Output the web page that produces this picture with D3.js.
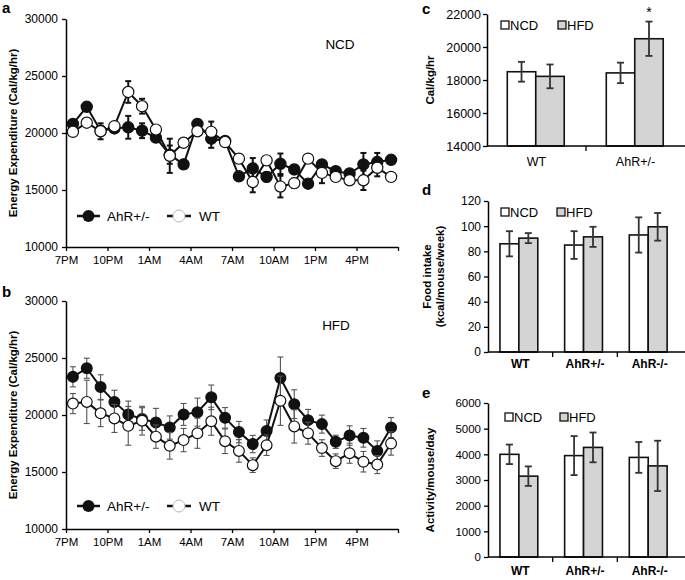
<!DOCTYPE html>
<html><head><meta charset="utf-8">
<script src="https://cdn.jsdelivr.net/npm/d3@7"></script>
<style>
body{margin:0;background:#fff}
svg{display:block}
text{font-family:"Liberation Sans",Arial,sans-serif;fill:#000}
</style>
</head><body>
<svg id="chart" width="685" height="580"></svg>
<script>
// ---------- DATA ----------
const hours = [0.5,1.5,2.5,3.5,4.5,5.5,6.5,7.5,8.5,9.5,10.5,11.5,12.5,13.5,14.5,15.5,16.5,17.5,18.5,19.5,20.5,21.5,22.5,23.5];
const xTickHours = [0,3,6,9,12,15,18,21,24];
const xTickLabels = ["7PM","10PM","1AM","4AM","7AM","10AM","1PM","4PM",""];
const eeTicks = [10000,15000,20000,25000,30000];

// panel a (NCD)
const ncdAhR    = [20800,22300,20200,20400,20500,20200,19600,18100,17250,20800,19500,19300,16200,16900,16150,17300,16800,15550,17250,16650,16450,17250,17450,17650];
const ncdAhRErr = [300,350,400,300,1000,650,350,800,400,300,800,300,300,900,400,900,400,300,350,300,300,1000,800,300];
const ncdWT     = [20100,20900,20150,20600,23600,22350,20300,18000,19150,20150,20100,19200,17750,15700,17600,15300,15600,17750,16500,16150,15850,15850,16950,16150];
const ncdWTErr  = [300,300,700,300,950,650,300,1500,400,300,900,300,400,900,300,950,400,300,900,300,300,850,750,300];

// panel b (HFD)
const hfdAhR    = [23350,24100,22450,21150,20050,19650,19350,18900,20050,20250,21550,19750,18500,17450,18600,23250,20950,19550,19200,17650,18200,18000,16850,18900];
const hfdAhRErr = [880,880,1080,1020,1170,990,1230,1020,960,1230,1080,900,940,760,960,1840,1260,940,790,580,850,820,880,880];
const hfdWT     = [21000,21150,20150,19700,19050,19500,18100,17300,17800,18400,19450,17700,16850,15600,17350,21250,19000,18400,17100,15950,16650,15900,15650,17500];
const hfdWTErr  = [880,1900,1170,1230,1700,1260,1020,1170,1020,1320,1230,1080,990,640,900,2160,1460,960,730,640,880,900,790,1020];

// panel c
const cCats = ["WT","AhR+/-"];
const cNCD = [18500,18430];
const cNCDErr = [600,620];
const cHFD = [18220,20500];
const cHFDErr = [720,1040];
const cTicks = [14000,16000,18000,20000,22000];

// panel d
const dCats = ["WT","AhR+/-","AhR-/-"];
const dNCD = [86,85,93];
const dNCDErr = [10,11,14];
const dHFD = [90.5,91.5,99.5];
const dHFDErr = [4,8,11];
const dTicks = [0,20,40,60,80,100,120];

// panel e
const eCats = ["WT","AhR+/-","AhR-/-"];
const eNCD = [4000,3950,3880];
const eNCDErr = [380,760,600];
const eHFD = [3150,4270,3550];
const eHFDErr = [380,580,980];
const eTicks = [0,1000,2000,3000,4000,5000,6000];

const groups = ["NCD","HFD"];

// ---------- DRAW ----------
const svg = d3.select("#chart");
const FONT = '"Liberation Sans",Arial,sans-serif';

function styleAxis(g, fs){
  g.selectAll("path.domain").attr("stroke","#000").attr("stroke-width",1.5);
  g.selectAll(".tick line").attr("stroke","#000").attr("stroke-width",1.3);
  g.selectAll(".tick text").attr("font-size",fs).attr("font-family",FONT).attr("fill","#000");
}

function linePanel(o){
  const g = svg.append("g");
  const x = d3.scaleLinear().domain([0,24]).range([66,398]);
  const y = d3.scaleLinear().domain([10000,30000]).range([o.yBot,o.yTop]);

  const ax = g.append("g").attr("transform",`translate(0,${o.yBot})`)
    .call(d3.axisBottom(x).tickValues(xTickHours).tickFormat((d,i)=>xTickLabels[i]).tickSize(4).tickSizeOuter(0).tickPadding(5));
  styleAxis(ax, 11.5);
  const ay = g.append("g").attr("transform",`translate(66,0)`)
    .call(d3.axisLeft(y).tickValues(eeTicks).tickFormat(d3.format("d")).tickSize(4).tickSizeOuter(0).tickPadding(4));
  styleAxis(ay, 12);
  ay.selectAll(".tick text").attr("fill","#333");
  ax.selectAll(".tick text").attr("fill","#333");

  g.append("text").attr("transform",`translate(17,${(o.yTop+o.yBot)/2}) rotate(-90)`)
    .attr("text-anchor","middle").attr("font-size",11.5).attr("font-weight","bold")
    .text("Energy Expenditure (Cal/kg/hr)");
  g.append("text").attr("x",2).attr("y",o.labelY).attr("font-size",15).attr("font-weight","bold").text(o.label);
  g.append("text").attr("x",o.titleX).attr("y",o.titleY).attr("font-size",13.5).attr("text-anchor","middle").text(o.title);

  function series(vals, errs, filled){
    const s = g.append("g");
    const cw = 3;
    vals.forEach((v,i)=>{
      const xx = x(hours[i]), y1 = y(v-errs[i]), y2 = y(v+errs[i]);
      s.append("line").attr("x1",xx).attr("x2",xx).attr("y1",y1).attr("y2",y2)
        .attr("stroke",o.errColor).attr("stroke-width",o.errW);
      [y1,y2].forEach(yy=>s.append("line").attr("x1",xx-cw).attr("x2",xx+cw).attr("y1",yy).attr("y2",yy)
        .attr("stroke",o.errColor).attr("stroke-width",o.errW));
    });
    s.append("path").datum(vals)
      .attr("d", d3.line().x((d,i)=>x(hours[i])).y(d=>y(d)))
      .attr("fill","none").attr("stroke","#111").attr("stroke-width",2);
    s.selectAll("circle").data(vals).join("circle")
      .attr("cx",(d,i)=>x(hours[i])).attr("cy",d=>y(d)).attr("r",o.r)
      .attr("fill",filled?"#111":"#fff").attr("stroke","#111").attr("stroke-width",1.2);
  }
  series(o.ahr, o.ahrErr, true);
  series(o.wt, o.wtErr, false);

  // legend
  const ly = o.legendY;
  const leg = g.append("g");
  leg.append("line").attr("x1",77).attr("x2",100).attr("y1",ly).attr("y2",ly).attr("stroke","#111").attr("stroke-width",2.5);
  leg.append("circle").attr("cx",88.5).attr("cy",ly).attr("r",6).attr("fill","#111");
  leg.append("text").attr("x",107).attr("y",ly+5).attr("font-size",13.5).attr("fill","#222").text("AhR+/-");
  leg.append("line").attr("x1",167).attr("x2",191).attr("y1",ly).attr("y2",ly).attr("stroke","#111").attr("stroke-width",2.5);
  leg.append("circle").attr("cx",179).attr("cy",ly).attr("r",6).attr("fill","#fff").attr("stroke","#bbb").attr("stroke-width",1);
  leg.append("text").attr("x",199).attr("y",ly+5).attr("font-size",13.5).attr("fill","#222").text("WT");
}

linePanel({yTop:19,yBot:247,ahr:ncdAhR,ahrErr:ncdAhRErr,wt:ncdWT,wtErr:ncdWTErr,
  title:"NCD",titleX:340,titleY:49,label:"a",labelY:13,legendY:216,r:5.6,errColor:"#111",errW:2});
linePanel({yTop:301,yBot:529,ahr:hfdAhR,ahrErr:hfdAhRErr,wt:hfdWT,wtErr:hfdWTErr,
  title:"HFD",titleX:336,titleY:330,label:"b",labelY:297,legendY:506,r:5.4,errColor:"#555",errW:1.1});

function barPanel(o){
  const g = svg.append("g");
  const x = d3.scaleBand().domain(o.cats).range([o.x0,o.x1]);
  const y = d3.scaleLinear().domain(o.domain).range([o.yBot,o.yTop]);
  const xs = d3.scaleBand().domain(groups).range([x.bandwidth()*o.inner[0], x.bandwidth()*o.inner[1]]);

  // bars
  const series = [{k:"NCD",v:o.ncd,e:o.ncdErr,fill:"#fff"},{k:"HFD",v:o.hfd,e:o.hfdErr,fill:"#d4d4d4"}];
  series.forEach(s=>{
    s.v.forEach((v,i)=>{
      const bx = x(o.cats[i]) + xs(s.k);
      g.append("rect").attr("x",bx).attr("y",y(v)).attr("width",xs.bandwidth()).attr("height",y(o.domain[0])-y(v))
        .attr("fill",s.fill).attr("stroke","#111").attr("stroke-width",1.6);
    });
  });
  series.forEach(s=>{
    s.v.forEach((v,i)=>{
      const cx = x(o.cats[i]) + xs(s.k) + xs.bandwidth()/2;
      const y1 = y(v - s.e[i]), y2 = y(v + s.e[i]);
      g.append("line").attr("x1",cx).attr("x2",cx).attr("y1",y1).attr("y2",y2).attr("stroke","#333").attr("stroke-width",1.8);
      [y1,y2].forEach(yy=>g.append("line").attr("x1",cx-3.5).attr("x2",cx+3.5).attr("y1",yy).attr("y2",yy).attr("stroke","#333").attr("stroke-width",1.8));
    });
  });

  // axes
  const ay = g.append("g").attr("transform",`translate(${o.x0},0)`)
    .call(d3.axisLeft(y).tickValues(o.ticks).tickFormat(d3.format("d")).tickSize(4).tickSizeOuter(0).tickPadding(o.tp));
  styleAxis(ay, o.tickFs);
  ay.selectAll(".tick text").attr("fill","#333");
  g.append("line").attr("x1",o.x0).attr("x2",685).attr("y1",o.yBot).attr("y2",o.yBot).attr("stroke","#000").attr("stroke-width",1.5);
  o.cats.forEach((c,i)=>{
    if(i>0) g.append("line").attr("x1",x(c)).attr("x2",x(c)).attr("y1",o.yBot).attr("y2",o.yBot+5).attr("stroke","#000").attr("stroke-width",1.3);
    g.append("text").attr("x",x(c)+x.bandwidth()/2).attr("y",o.catY).attr("text-anchor","middle")
      .attr("font-size",o.catFs).attr("font-weight",o.catBold?"bold":"normal").text(c);
  });

  // y label
  o.ylabel.forEach((t,j)=>{
    g.append("text").attr("transform",`translate(${o.ylabX[j]},${(o.yTop+o.yBot)/2}) rotate(-90)`)
      .attr("text-anchor","middle").attr("font-size",11.5).attr("font-weight","bold").text(t);
  });
  g.append("text").attr("x",422).attr("y",o.labelY).attr("font-size",15).attr("font-weight","bold").text(o.label);

  // legend
  o.leg.forEach((lx,j)=>{
    g.append("rect").attr("x",lx).attr("y",o.legY-4).attr("width",8).attr("height",8)
      .attr("fill",j===0?"#fff":"#d4d4d4").attr("stroke","#111").attr("stroke-width",1.3);
    g.append("text").attr("x",lx+9).attr("y",o.legY+5).attr("font-size",13).text(groups[j]);
  });
  if(o.star){
    const i = o.star.i;
    g.append("text").attr("x",x(o.cats[i])+xs("HFD")+xs.bandwidth()/2).attr("y",y(o.hfd[i]+o.hfdErr[i])-5)
      .attr("text-anchor","middle").attr("font-size",14).text("*");
  }
}

barPanel({cats:cCats,ncd:cNCD,ncdErr:cNCDErr,hfd:cHFD,hfdErr:cHFDErr,domain:[14000,22000],ticks:cTicks,
  x0:487,x1:685,yTop:14,yBot:146,inner:[0.205,0.78],tp:2,tickFs:12.5,catY:166,catFs:12.5,catBold:false,
  ylabel:["Cal/kg/hr"],ylabX:[434],label:"c",labelY:14,leg:[501,558],legY:25,star:{i:1}});
barPanel({cats:dCats,ncd:dNCD,ncdErr:dNCDErr,hfd:dHFD,hfdErr:dHFDErr,domain:[0,120],ticks:dTicks,
  x0:488,x1:682,yTop:201,yBot:352,inner:[0.185,0.77],tp:3,tickFs:12,catY:368,catFs:12,catBold:true,
  ylabel:["Food intake","(kcal/mouse/week)"],ylabX:[431,444],label:"d",labelY:195,leg:[501,557],legY:212,star:null});
barPanel({cats:eCats,ncd:eNCD,ncdErr:eNCDErr,hfd:eHFD,hfdErr:eHFDErr,domain:[0,6000],ticks:eTicks,
  x0:488,x1:682,yTop:403,yBot:557,inner:[0.185,0.77],tp:3,tickFs:11.5,catY:575,catFs:12,catBold:true,
  ylabel:["Activity/mouse/day"],ylabX:[434],label:"e",labelY:398,leg:[505,560],legY:417,star:null});
</script>
</body></html>
